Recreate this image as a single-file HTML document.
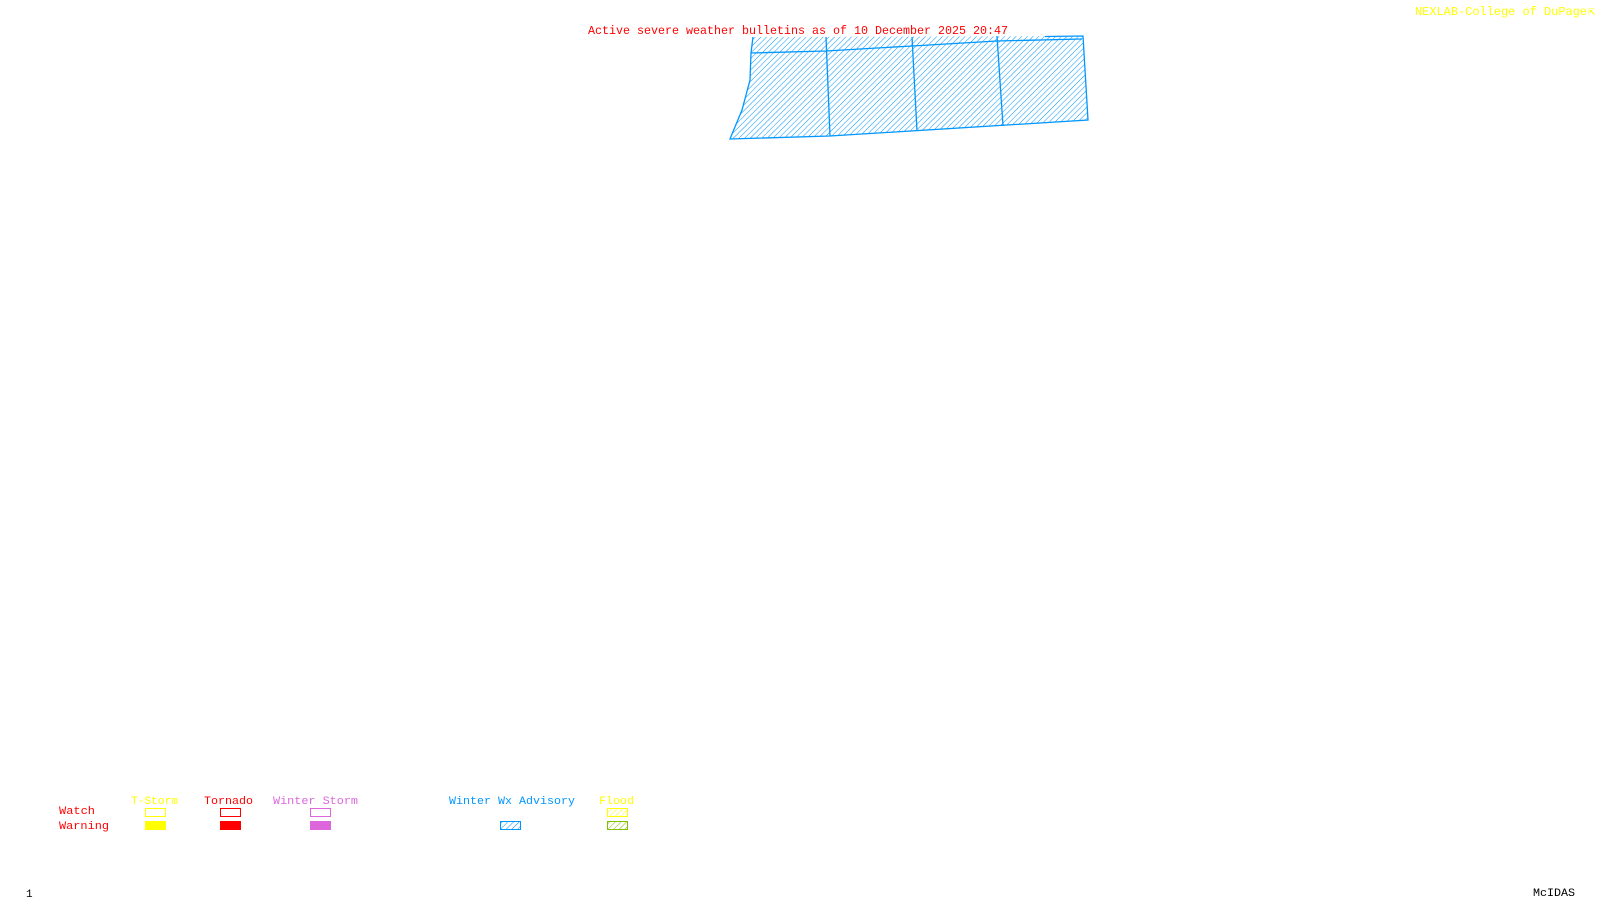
<!DOCTYPE html>
<html><head><style>html,body{margin:0;padding:0;background:#fff;}svg{display:block}</style></head>
<body>
<svg width="1600" height="900" viewBox="0 0 1600 900" xmlns="http://www.w3.org/2000/svg" font-family="Liberation Mono, monospace" font-size="12">
<defs>
<pattern id="hb" patternUnits="userSpaceOnUse" width="4" height="4" patternTransform="rotate(45)">
<line x1="0" y1="0" x2="0" y2="4" stroke="#0096ff" stroke-width="1"/></pattern>
<pattern id="hy" patternUnits="userSpaceOnUse" width="4" height="4" patternTransform="rotate(45)">
<line x1="0" y1="0" x2="0" y2="4" stroke="#ffff00" stroke-width="1"/></pattern>
<pattern id="hg" patternUnits="userSpaceOnUse" width="4" height="4" patternTransform="rotate(45)">
<line x1="0" y1="0" x2="0" y2="4" stroke="#80c000" stroke-width="1"/></pattern>
</defs>
<text x="588" y="34" fill="#ff0000" textLength="420" lengthAdjust="spacingAndGlyphs">Active severe weather bulletins as of 10 December 2025 20:47</text>
<text x="1415" y="15" fill="#ffff00" textLength="172" lengthAdjust="spacingAndGlyphs">NEXLAB-College of DuPage</text>
<text x="1588" y="15" fill="#ffff00">⇱</text>
<polygon points="753,37 1083,36 1088,120 830,136 730,139 742,110 750,80 751,53" fill="url(#hb)" stroke="none"/>
<g stroke="#0096ff" stroke-width="1.3" fill="none">
<polyline points="1045,36.5 1083,36 1088,120 830,136 730,139 742,110 750,80 751,53 753,37"/>
<polyline points="751,53 826,51 912,46 997,41 1082,39"/>
<line x1="826" y1="37" x2="830" y2="136"/>
<line x1="912" y1="37" x2="917" y2="131"/>
<line x1="997" y1="36" x2="1003" y2="126"/>
</g>
<g font-size="11">
<text x="131" y="804" fill="#ffff00" textLength="47" lengthAdjust="spacingAndGlyphs">T-Storm</text>
<text x="204" y="804" fill="#ff0000" textLength="49" lengthAdjust="spacingAndGlyphs">Tornado</text>
<text x="273" y="804" fill="#dd66dd" textLength="85" lengthAdjust="spacingAndGlyphs">Winter Storm</text>
<text x="449" y="804" fill="#0096ff" textLength="126" lengthAdjust="spacingAndGlyphs">Winter Wx Advisory</text>
<text x="599" y="804" fill="#ffff00" textLength="35" lengthAdjust="spacingAndGlyphs">Flood</text>
<text x="59" y="814" fill="#ff0000" textLength="36" lengthAdjust="spacingAndGlyphs">Watch</text>
<text x="59" y="829" fill="#ff0000" textLength="50" lengthAdjust="spacingAndGlyphs">Warning</text>
</g>
<rect x="145.5" y="808.5" width="20" height="8" fill="none" stroke="#ffff00"/>
<rect x="220.5" y="808.5" width="20" height="8" fill="none" stroke="#ff0000"/>
<rect x="310.5" y="808.5" width="20" height="8" fill="none" stroke="#dd66dd"/>
<rect x="607.5" y="808.5" width="20" height="8" fill="url(#hy)" stroke="#ffff00"/>
<rect x="145" y="821" width="21" height="9" fill="#ffff00"/>
<rect x="220" y="821" width="21" height="9" fill="#ff0000"/>
<rect x="310" y="821" width="21" height="9" fill="#dd66dd"/>
<rect x="500.5" y="821.5" width="20" height="8" fill="url(#hb)" stroke="#0096ff"/>
<rect x="607.5" y="821.5" width="20" height="8" fill="url(#hg)" stroke="#80c000"/>
<text x="26" y="897" fill="#000" font-size="11">1</text>
<text x="1533" y="896" fill="#000" font-size="11" textLength="42" lengthAdjust="spacingAndGlyphs">McIDAS</text>
</svg>
</body></html>
